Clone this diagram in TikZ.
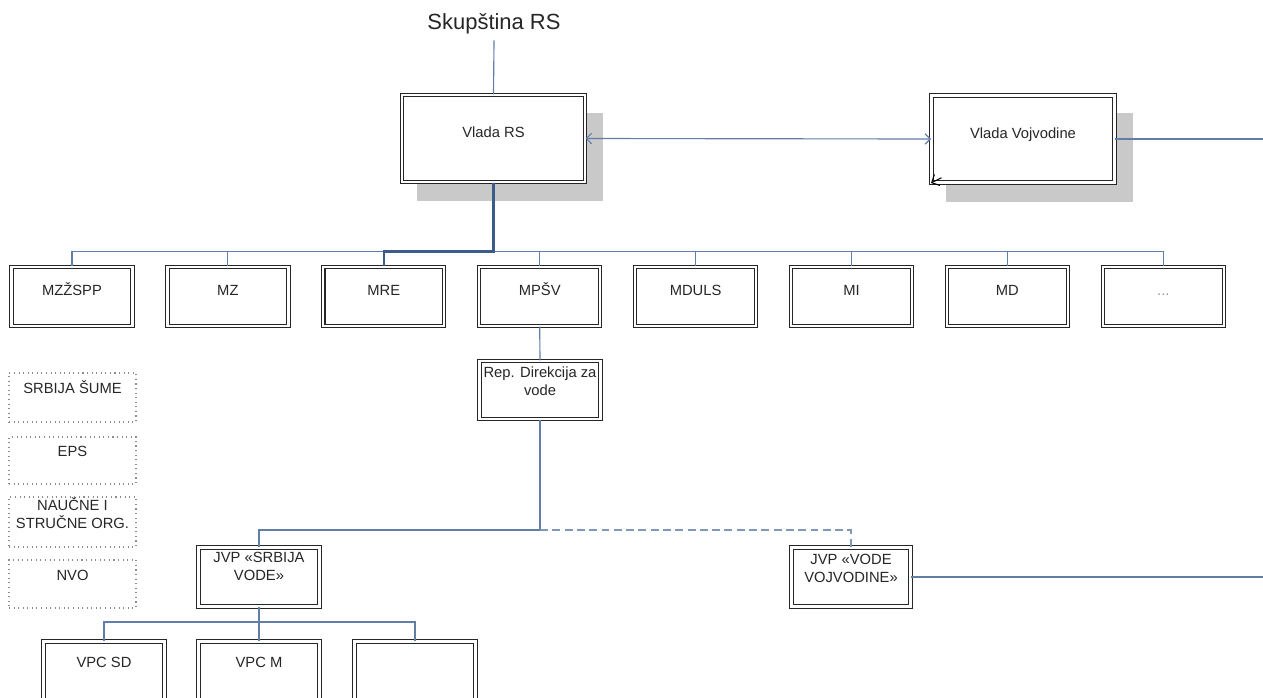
\documentclass[tikz,border=0pt]{standalone}
\usepackage{fontspec}
\setmainfont{Liberation Sans}
\usetikzlibrary{arrows.meta,shadows}
\definecolor{linkblue}{RGB}{96,126,166}
\definecolor{trunkblue}{RGB}{58,92,138}
\definecolor{shadowgray}{RGB}{201,201,201}
\tikzset{
	orgbox/.style={draw=black!85,double=white,double distance=1.3pt,line width=0.6pt,fill=white,
		inner sep=0pt,align=center,text=black!85,font=\fontsize{8.4}{10}\selectfont},
	vladabox/.style={orgbox,minimum width=3.66cm,text height=0.85cm,text depth=0.89cm,
		drop shadow={shadow xshift=0.32cm,shadow yshift=-0.36cm,shadow scale=1.02,fill=shadowgray,opacity=1}},
	unitbox/.style={orgbox,minimum width=2.42cm},
	extbox/.style={draw=black!45,dotted,line width=0.6pt,minimum width=2.54cm,inner sep=0pt,
		align=center,text=black!85,font=\fontsize{8.4}{10}\selectfont},
	conn/.style={draw=linkblue,line width=0.65pt},
	trunk/.style={draw=trunkblue,line width=1.3pt}
}
\begin{document}
\begin{tikzpicture}[x=0.02cm,y=-0.02cm]
	\path[use as bounding box,clip] (0,0) rectangle (1263,697);
	\node[text=black!85,font=\fontsize{12.5}{15}\selectfont] (sk) at (494,24) {Skupština RS};
	\node[vladabox] (vr) at (493.5,138.5) {Vlada RS};
	\node[vladabox] (vv) at (1023,139) {Vlada Vojvodine};
	\coordinate (vvout) at (1263,139);
	\draw[conn] (sk.south) -- (vr.north);
	\draw[conn,{Straight Barb[length=3pt,width=6pt]}-{Straight Barb[length=3pt,width=6pt]}] (vr.east) -- (vv.west);
	\draw[conn] (vv.east) -- (vvout);
	\draw[black,line width=0.6pt,-{Straight Barb[length=3.5pt,width=7pt]}] ([xshift=6pt,yshift=3pt]vv.south west) -- (vv.south west);
	\foreach \name [count=\i] in {MZŽSPP,MZ,MRE,MPŠV,MDULS,MI,MD,{\textcolor{black!40}{...}}}{
		\node[unitbox,text height=0.57cm,text depth=0.61cm] (m\i) at ({72+(\i-1)*155.9},296.5) {\name};
		\draw[conn] (vr.south) -- ++(0,69) -| (m\i.north);
	}
	\draw[trunk] (vr.south) -- ++(0,69) -| (m3.north);
	\node[unitbox,text height=0.69cm,text depth=0.47cm] (rd) at (540,390) {Rep. Direkcija za\\vode};
	\draw[conn] (m4.south) -- (rd.north);
	\coordinate (fork) at (540,530);
	\node[unitbox,text height=0.65cm,text depth=0.53cm] (jsv) at (259,577) {JVP «SRBIJA\\VODE»};
	\node[unitbox,minimum width=2.38cm,text height=0.69cm,text depth=0.49cm] (jvv) at (851,577) {JVP «VODE\\VOJVODINE»};
	\coordinate (jvvout) at (1263,577);
	\draw[conn] (rd.south) -- (fork) -| (jsv.north);
	\draw[conn,draw=linkblue!80,dash pattern=on 4.5pt off 2.5pt] (fork) -| (jvv.north);
	\draw[conn] (jvv.east) -- (jvvout);
	\foreach \name/\x [count=\i] in {VPC SD/104,VPC M/259,/415}{
		\node[unitbox,text height=0.51cm,text depth=0.67cm] (vpc\i) at (\x,671) {\name};
		\draw[conn] (jsv.south) -- ++(0,15) -| (vpc\i.north);
	}
	\node[extbox,text height=0.40cm,text depth=0.58cm] (srb) at (72.5,397.5) {SRBIJA ŠUME};
	\node[extbox,text height=0.38cm,text depth=0.56cm] (eps) at (72.5,460.5) {EPS};
	\node[extbox,text height=0.63cm,text depth=0.37cm] (nauc) at (72.5,522) {NAUČNE I\\STRUČNE ORG.};
	\node[extbox,text height=0.40cm,text depth=0.56cm] (nvo) at (72.5,584) {NVO};
\end{tikzpicture}
\end{document}
